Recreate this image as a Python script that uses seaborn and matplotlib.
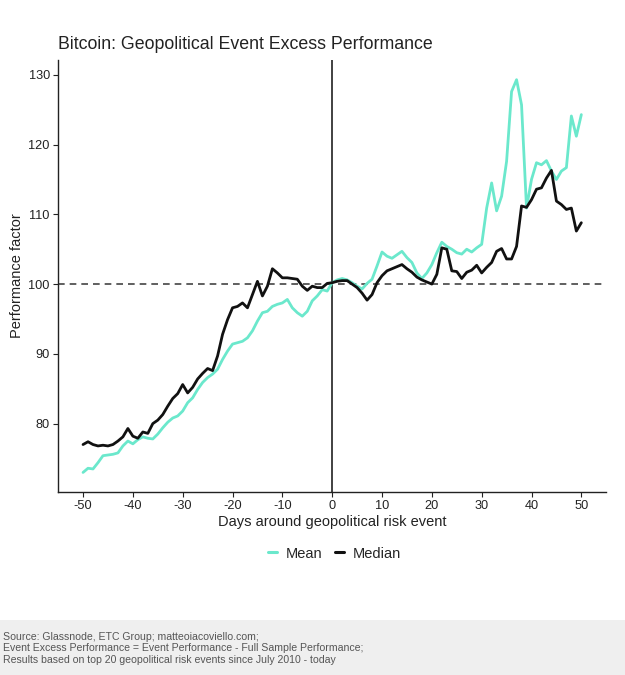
import numpy as np
import pandas as pd
import matplotlib
matplotlib.use('Agg')
import matplotlib.pyplot as plt
import seaborn as sns

days = list(range(-50, 51))

mean_perf = [
    73.0, 73.6, 73.5, 74.4, 75.4, 75.5, 75.6, 75.8, 76.8, 77.5,   # -50..-41
    77.1, 77.7, 78.1, 77.9, 77.8, 78.5, 79.4, 80.2, 80.8, 81.1,   # -40..-31
    81.8, 83.0, 83.7, 84.9, 85.9, 86.6, 87.1, 87.8, 89.2, 90.4,   # -30..-21
    91.4, 91.6, 91.8, 92.3, 93.3, 94.7, 95.9, 96.1, 96.8, 97.1,   # -20..-11
    97.3, 97.8, 96.6, 95.9, 95.4, 96.1, 97.6, 98.3, 99.2, 99.0,   # -10..-1
    100.2,                                                        # 0
    100.6, 100.8, 100.6, 100.2, 99.7, 99.3, 100.1, 100.7, 102.6, 104.6,   # 1..10
    104.0, 103.7, 104.2, 104.7, 103.8, 103.1, 101.6, 100.8, 101.6, 102.8, # 11..20
    104.5, 106.0, 105.4, 105.0, 104.5, 104.3, 105.0, 104.6, 105.2, 105.7, # 21..30
    110.9, 114.5, 110.5, 112.6, 117.6, 127.6, 129.3, 125.7, 110.9, 115.0, # 31..40
    117.4, 117.1, 117.7, 116.2, 115.0, 116.2, 116.7, 124.1, 121.2, 124.3, # 41..50
]

median_perf = [
    77.0, 77.4, 77.0, 76.8, 76.9, 76.8, 77.0, 77.5, 78.1, 79.3,   # -50..-41
    78.2, 77.9, 78.8, 78.6, 80.0, 80.5, 81.3, 82.5, 83.6, 84.3,   # -40..-31
    85.6, 84.4, 85.2, 86.4, 87.2, 87.9, 87.6, 89.7, 92.8, 94.9,   # -30..-21
    96.6, 96.8, 97.3, 96.6, 98.5, 100.4, 98.3, 99.7, 102.2, 101.6, # -20..-11
    100.9, 100.9, 100.8, 100.7, 99.7, 99.1, 99.7, 99.5, 99.5, 100.1, # -10..-1
    100.2,                                                        # 0
    100.4, 100.5, 100.5, 100.0, 99.5, 98.7, 97.7, 98.5, 100.2, 101.2,     # 1..10
    101.9, 102.2, 102.5, 102.8, 102.2, 101.7, 101.0, 100.6, 100.3, 100.0, # 11..20
    101.4, 105.2, 105.0, 101.9, 101.8, 100.8, 101.7, 102.0, 102.7, 101.6, # 21..30
    102.4, 103.1, 104.7, 105.1, 103.6, 103.6, 105.4, 111.2, 111.0, 112.1, # 31..40
    113.6, 113.8, 115.2, 116.3, 111.9, 111.4, 110.7, 110.9, 107.6, 108.8, # 41..50
]

x_ticks = [-50, -40, -30, -20, -10, 0, 10, 20, 30, 40, 50]
y_ticks = [80, 90, 100, 110, 120, 130]

df = pd.DataFrame({
    'day': days * 2,
    'value': mean_perf + median_perf,
    'stat': ['Mean'] * len(days) + ['Median'] * len(days),
})

sns.set_theme(style='ticks')
plt.rcParams['font.family'] = ['Liberation Sans', 'DejaVu Sans']

fig = plt.figure(figsize=(6.25, 6.75), dpi=100)
ax = fig.add_axes([0.093, 0.271, 0.877, 0.640])

# reference lines first so the series sit on top
ax.axvline(0, color='#333333', lw=1.3, zorder=1)
ax.axhline(100, color='#444444', lw=1.2, ls=(0, (4, 3)), zorder=1)

sns.lineplot(data=df, x='day', y='value', hue='stat',
             palette={'Mean': '#6be8cc', 'Median': '#111111'},
             linewidth=2.0, ax=ax, legend=False, zorder=3)

lo = min(mean_perf + median_perf)
hi = max(mean_perf + median_perf)
pad = (hi - lo) * 0.05
ax.set_xlim(-55, 55)
ax.set_ylim(lo - pad, hi + pad)
ax.set_xticks(x_ticks)
ax.set_xticklabels([str(t) for t in x_ticks])
ax.set_yticks(y_ticks)
ax.tick_params(axis='both', labelsize=9.2, colors='#222222', length=3.5, width=0.8, pad=2.5)
for s in ['top', 'right']:
    ax.spines[s].set_visible(False)
for s in ['left', 'bottom']:
    ax.spines[s].set_color('#222222')
    ax.spines[s].set_linewidth(1.0)

ax.set_xlabel('Days around geopolitical risk event', fontsize=10.5, color='#222222', labelpad=2)
ax.set_ylabel('Performance factor', fontsize=10.5, color='#222222', labelpad=3)
ax.set_title('Bitcoin: Geopolitical Event Excess Performance', loc='left',
             fontsize=12.8, color='#222222', pad=8, x=0.0)

handles = [plt.Line2D([], [], color='#6be8cc', lw=2.2),
           plt.Line2D([], [], color='#111111', lw=2.2)]
fig.legend(handles, ['Mean', 'Median'], loc='center', bbox_to_anchor=(0.535, 0.180),
           ncol=2, frameon=False, handlelength=0.6, handletextpad=0.6,
           columnspacing=0.9, fontsize=10.5)

# caption band at the bottom
fig.patches.append(plt.Rectangle((0, 0), 1, 55 / 675, transform=fig.transFigure,
                                 facecolor='#efefef', edgecolor='none', zorder=0))
caption = ('Source: Glassnode, ETC Group; matteoiacoviello.com;\n'
           'Event Excess Performance = Event Performance - Full Sample Performance;\n'
           'Results based on top 20 geopolitical risk events since July 2010 - today')
fig.text(0.005, 0.064, caption, fontsize=7.6, color='#555555', va='top', ha='left',
         linespacing=1.2)

fig.savefig('out.png', dpi=100, facecolor='white')
